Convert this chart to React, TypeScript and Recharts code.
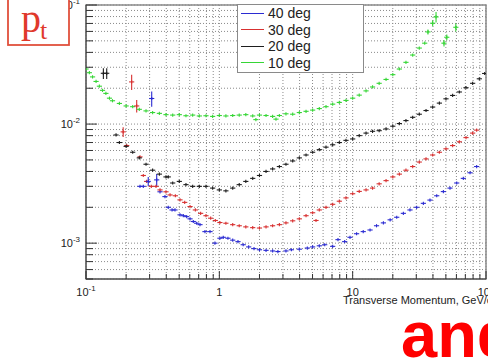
import { CartesianGrid, ErrorBar, Legend, ReferenceArea, Scatter, ScatterChart, XAxis, YAxis } from "recharts";

// tick positions (log axes, grid at every minor step)
const xTicks = [0.1, 0.2, 0.3, 0.4, 0.5, 0.6, 0.7, 0.8, 0.9, 1, 2, 3, 4, 5, 6, 7, 8, 9, 10, 20, 30, 40, 50, 60, 70, 80, 90, 100];
const yTicks = [0.0005, 0.0006, 0.0007, 0.0008, 0.0009, 0.001, 0.002, 0.003, 0.004, 0.005, 0.006, 0.007, 0.008, 0.009, 0.01, 0.02, 0.03, 0.04, 0.05, 0.06, 0.07, 0.08, 0.09, 0.1];
const xLabels: Record<string, [string, string]> = { "0.1": ["10", "-1"], "1": ["1", ""], "10": ["10", ""], "100": ["10", "2"] };
const yLabels: Record<string, [string, string]> = { "0.1": ["10", "-1"], "0.01": ["10", "-2"], "0.001": ["10", "-3"] };

const seriesNames = ["40 deg", "30 deg", "20 deg", "10 deg"];

// 10 deg
const pt10 = [0.1, 0.106, 0.112, 0.119, 0.126, 0.133, 0.141, 0.15, 0.158, 0.178, 0.2, 0.224, 0.251, 0.282, 0.316, 0.355, 0.398, 0.447, 0.501, 0.562, 0.631, 0.708, 0.794, 0.891, 1.0, 1.12, 1.26, 1.41, 1.58, 1.78, 1.88, 2.0, 2.24, 2.51, 2.66, 2.82, 3.16, 3.55, 3.98, 4.47, 5.01, 5.62, 6.31, 7.08, 7.94, 8.91, 10, 11.2, 12.6, 14.1, 15.8, 17.8, 20, 22.4, 25.1, 28.2, 31.6, 34.7];
const res10 = [0.029, 0.027, 0.0249, 0.0228, 0.0208, 0.0192, 0.0181, 0.0165, 0.0157, 0.0149, 0.0142, 0.014, 0.0133, 0.0129, 0.0125, 0.0123, 0.012, 0.0119, 0.012, 0.01175, 0.0119, 0.0117, 0.01175, 0.0116, 0.0118, 0.0117, 0.0118, 0.0119, 0.012, 0.0117, 0.0109, 0.0119, 0.0118, 0.0116, 0.011, 0.0118, 0.0122, 0.0121, 0.0125, 0.0128, 0.0131, 0.0135, 0.014, 0.0147, 0.0152, 0.0158, 0.0165, 0.0175, 0.019, 0.0205, 0.022, 0.0237, 0.026, 0.029, 0.033, 0.038, 0.0435, 0.0478];
const pt10Out = [36.7, 39.8, 42.2, 48.4, 50.8, 59.4];
const res10Out = [0.0594, 0.0703, 0.0794, 0.0478, 0.0536, 0.065];
const err10Out = [0.003, 0.004, 0.008, 0.003, 0.003, 0.005];

// 20 deg
const pt20 = [0.168, 0.178, 0.2, 0.224, 0.251, 0.282, 0.316, 0.355, 0.398, 0.414, 0.447, 0.501, 0.562, 0.631, 0.708, 0.794, 0.891, 1.0, 1.12, 1.26, 1.41, 1.58, 1.78, 2.0, 2.24, 2.51, 2.82, 3.16, 3.55, 3.98, 4.47, 5.01, 5.62, 6.31, 7.08, 7.94, 8.91, 10, 11.2, 12.6, 14.1, 15.8, 17.8, 20, 22.4, 25.1, 28.2, 31.6, 35.5, 39.8, 44.7, 50.1, 56.2, 63.1, 70.8, 79.4, 89.1, 97.7];
const res20 = [0.0081, 0.007, 0.0065, 0.0058, 0.0052, 0.0046, 0.0041, 0.0038, 0.0036, 0.0036, 0.0032, 0.0033, 0.0031, 0.003, 0.003, 0.003, 0.0029, 0.0028, 0.00275, 0.0029, 0.0031, 0.0033, 0.0035, 0.0037, 0.004, 0.0042, 0.0044, 0.0046, 0.0049, 0.0052, 0.0055, 0.0058, 0.0061, 0.0064, 0.0067, 0.007, 0.0073, 0.0075, 0.008, 0.0084, 0.0087, 0.0088, 0.0091, 0.0096, 0.0101, 0.0107, 0.0114, 0.0121, 0.013, 0.0139, 0.015, 0.0163, 0.0174, 0.0186, 0.0202, 0.022, 0.024, 0.0266];
const pt20Out = [0.135, 0.143];
const res20Out = [0.0267, 0.0267];
const err20Out = [0.0028, 0.0028];

// 30 deg
const pt30 = [0.202, 0.254, 0.269, 0.285, 0.309, 0.335, 0.359, 0.398, 0.427, 0.468, 0.507, 0.55, 0.603, 0.661, 0.724, 0.794, 0.861, 0.933, 1.01, 1.12, 1.26, 1.41, 1.58, 1.78, 2.0, 2.24, 2.51, 2.82, 3.16, 3.55, 3.98, 4.47, 5.01, 5.31, 5.62, 6.31, 7.08, 7.94, 8.91, 10, 11.2, 12.6, 14.1, 15.8, 17.8, 20, 22.4, 25.1, 28.2, 31.6, 35.5, 39.8, 44.7, 50.1, 56.2, 63.1, 70.8, 79.4, 85.1];
const res30 = [0.0066, 0.0053, 0.0037, 0.0033, 0.003, 0.003, 0.0028, 0.0027, 0.00254, 0.0025, 0.00231, 0.0022, 0.00203, 0.0019, 0.00178, 0.0017, 0.00162, 0.00155, 0.00149, 0.00147, 0.00143, 0.0014, 0.00137, 0.00135, 0.00134, 0.00137, 0.0014, 0.00143, 0.00148, 0.00154, 0.0016, 0.0017, 0.0018, 0.00155, 0.0019, 0.002, 0.00212, 0.00225, 0.0024, 0.0026, 0.00272, 0.0028, 0.0029, 0.00315, 0.00335, 0.0036, 0.0038, 0.0041, 0.0044, 0.0048, 0.0051, 0.0055, 0.0058, 0.0062, 0.0066, 0.0071, 0.0077, 0.0084, 0.0089];
const pt30Out = [0.19, 0.22, 0.24];
const res30Out = [0.0086, 0.0226, 0.0142];
const err30Out = [0.0008, 0.0033, 0.0017];

// 40 deg
const pt40 = [0.254, 0.269, 0.359, 0.391, 0.414, 0.442, 0.465, 0.507, 0.537, 0.569, 0.603, 0.638, 0.676, 0.716, 0.78, 0.851, 0.927, 1.01, 1.07, 1.16, 1.26, 1.38, 1.51, 1.66, 1.82, 2.0, 2.24, 2.51, 2.75, 3.16, 3.47, 3.98, 4.57, 5.01, 5.62, 6.17, 7.08, 7.76, 8.71, 9.55, 10.7, 12.0, 13.5, 15.1, 17.0, 19.1, 21.4, 24.0, 26.9, 30.2, 33.9, 38.0, 42.7, 47.9, 53.7, 60.3, 67.6, 75.9, 85.1];
const res40 = [0.003, 0.003, 0.0027, 0.00246, 0.002, 0.0019, 0.0019, 0.00173, 0.0017, 0.00167, 0.0016, 0.00152, 0.00147, 0.00143, 0.00125, 0.00125, 0.001, 0.0011, 0.00112, 0.0011, 0.00106, 0.00103, 0.00097, 0.00093, 0.0009, 0.00088, 0.00087, 0.00086, 0.00085, 0.00086, 0.00088, 0.00089, 0.00091, 0.00093, 0.00095, 0.00097, 0.00094, 0.00107, 0.00103, 0.00112, 0.0012, 0.00125, 0.00129, 0.0014, 0.00148, 0.00157, 0.00165, 0.00178, 0.0019, 0.002, 0.00216, 0.0023, 0.0025, 0.00271, 0.0029, 0.0032, 0.0035, 0.0039, 0.0044];
const pt40Out = [0.293, 0.311, 0.339];
const res40Out = [0.0033, 0.0164, 0.0034];
const err40Out = [0.0003, 0.0024, 0.0004];

const colors = ["#2b2bd2", "#d83030", "#1e1e1e", "#36d636"];
const font = "'Liberation Sans', Arial, sans-serif";

type Pt = { x: number; y: number; err?: number };
const zip = (xs: number[], ys: number[], es?: number[]): Pt[] =>
  xs.map((x, i) => ({ x, y: ys[i], err: es ? es[i] : undefined }));

const cross = (color: string) => (p: any) => {
  const { cx, cy } = p;
  if (cx == null || cy == null) return <g />;
  return (
    <g stroke={color} strokeWidth={1.1}>
      <line x1={cx - 2.6} x2={cx + 2.6} y1={cy} y2={cy} />
      <line x1={cx} x2={cx} y1={cy - 1.6} y2={cy + 1.6} />
    </g>
  );
};

const XTick = (p: any) => {
  const { x, y, payload } = p;
  const lab = xLabels[String(payload.value)];
  return (
    <g>
      <line x1={x} x2={x} y1={y} y2={y - (lab ? 8 : 5)} stroke="#333" />
      {lab && (
        <text x={x} y={y + 17} textAnchor="middle" fontSize={11} fill="#222" fontFamily={font}>
          {lab[0]}
          {lab[1] && <tspan dy={-5} fontSize={8}>{lab[1]}</tspan>}
        </text>
      )}
    </g>
  );
};

const YTick = (p: any) => {
  const { x, y, payload } = p;
  const lab = yLabels[String(payload.value)];
  return (
    <g>
      <line x1={x} x2={x + (lab ? 11 : 7)} y1={y} y2={y} stroke="#333" />
      {lab && (
        <text x={x - 6} y={y + 4} textAnchor="end" fontSize={11} fill="#222" fontFamily={font}>
          {lab[0]}
          <tspan dy={-5} fontSize={8}>{lab[1]}</tspan>
        </text>
      )}
    </g>
  );
};

const LegendBox = () => (
  <div style={{ width: 127, height: 69, boxSizing: "border-box", background: "#fff", border: "1.5px solid #8a8a8a", fontFamily: font, fontSize: 14, color: "#222" }}>
    {seriesNames.map((n, i) => (
      <div key={n} style={{ display: "flex", alignItems: "center", height: 16.5, paddingLeft: 3 }}>
        <span style={{ width: 23, height: 0, borderTop: `1px solid ${colors[i]}`, marginRight: 4 }} />
        {n}
      </div>
    ))}
  </div>
);

const series = [
  { main: zip(pt40, res40), out: zip(pt40Out, res40Out, err40Out) },
  { main: zip(pt30, res30), out: zip(pt30Out, res30Out, err30Out) },
  { main: zip(pt20, res20), out: zip(pt20Out, res20Out, err20Out) },
  { main: zip(pt10, res10), out: zip(pt10Out, res10Out, err10Out) },
];

export default function App() {
  return (
    <div style={{ position: "absolute", left: 0, top: 0, width: 488, height: 359, overflow: "hidden", background: "#fff" }}>
      <ScatterChart width={488} height={359} margin={{ top: 5, right: 2, bottom: 50, left: 0 }}>
        <CartesianGrid stroke="#8a8a8a" strokeDasharray="1 2" />
        <XAxis
          type="number"
          dataKey="x"
          scale="log"
          domain={[0.1, 100]}
          allowDataOverflow
          ticks={xTicks}
          interval={0}
          tickSize={0}
          tickMargin={0}
          height={30}
          stroke="#444"
          tick={<XTick />}
          label={{
            content: (lp: any) => {
              const vb = lp.viewBox;
              return (
                <text x={vb.x + vb.width - 143} y={vb.y + 25} fontSize={11} fill="#222" fontFamily={font}>
                  Transverse Momentum, GeV/c
                </text>
              );
            },
          }}
        />
        <YAxis
          type="number"
          dataKey="y"
          scale="log"
          domain={[0.0005, 0.1]}
          allowDataOverflow
          ticks={yTicks}
          interval={0}
          tickSize={0}
          tickMargin={0}
          width={86}
          stroke="#444"
          tick={<YTick />}
        />
        <ReferenceArea x1={0.1} x2={100} y1={0.0005} y2={0.1} fill="none" stroke="#8a8a8a" strokeWidth={1.5} />
        {series.map((s, i) => (
          <Scatter key={"m" + i} name={seriesNames[i]} data={s.main} shape={cross(colors[i])} isAnimationActive={false} />
        ))}
        {series.map((s, i) => (
          <Scatter key={"o" + i} data={s.out} shape={cross(colors[i])} isAnimationActive={false} legendType="none">
            <ErrorBar dataKey="err" direction="y" width={0} stroke={colors[i]} strokeWidth={1.1} isAnimationActive={false} />
          </Scatter>
        ))}
        <Legend
          layout="horizontal"
          verticalAlign="middle"
          align="center"
          width={127}
          height={69}
          wrapperStyle={{ left: 237, top: 4, width: 127, height: 69 }}
          content={() => <LegendBox />}
        />
      </ScatterChart>
      <svg width={488} height={359} style={{ position: "absolute", left: 0, top: 0, pointerEvents: "none" }}>
        <rect x={8} y={-3} width={61} height={48} fill="#fff" stroke="#e0503c" strokeWidth={1.8} />
        <text x={21} y={32} fontSize={40} fill="#e0392b" fontFamily="'Liberation Serif', 'Times New Roman', serif">p</text>
        <text x={40} y={39} fontSize={26} fill="#e0392b" fontFamily="'Liberation Serif', 'Times New Roman', serif">t</text>
        <text x={401} y={357} fontSize={65} fontWeight="bold" fill="#ff0000" fontFamily={font}>ang</text>
      </svg>
    </div>
  );
}
